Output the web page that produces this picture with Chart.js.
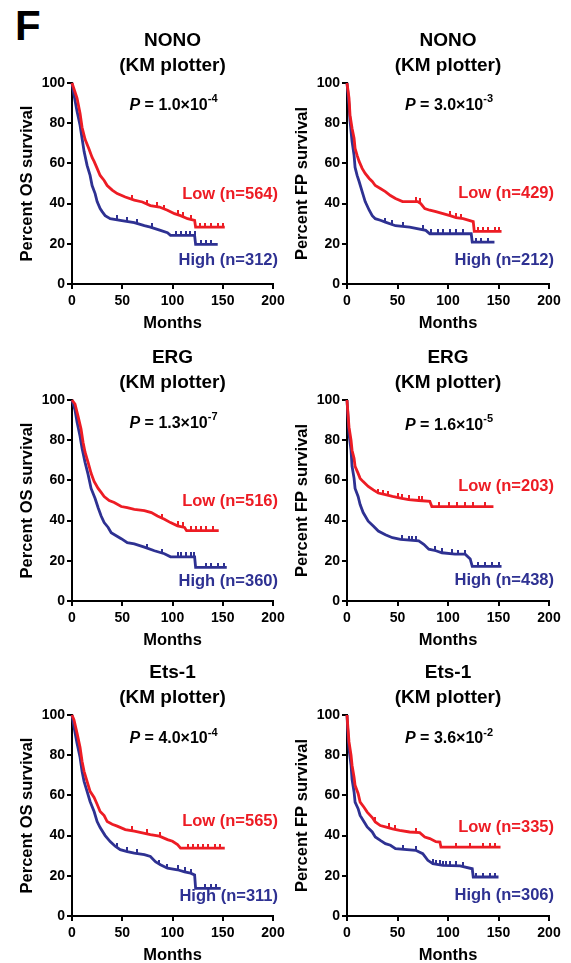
<!DOCTYPE html>
<html>
<head>
<meta charset="utf-8">
<title>KM plotter survival curves</title>
<script src="https://cdn.jsdelivr.net/npm/chart.js@4.4.1/dist/chart.umd.min.js"></script>
<style>
  html, body { margin: 0; padding: 0; background: #fff; }
  #page { position: relative; width: 571px; height: 963px; overflow: hidden; }
  #page canvas { position: absolute; }
  #letter { position: absolute; left: 15px; top: 5px; font: bold 42px 'Liberation Sans', Arial, sans-serif; line-height: 1; }
</style>
</head>
<body>
<div id="page">
  <div id="letter">F</div>
  <canvas id="c0" width="295" height="309" style="left:0;top:26px"></canvas>
  <canvas id="c1" width="291" height="309" style="left:280px;top:26px"></canvas>
  <canvas id="c2" width="295" height="309" style="left:0;top:343px"></canvas>
  <canvas id="c3" width="291" height="309" style="left:280px;top:343px"></canvas>
  <canvas id="c4" width="295" height="309" style="left:0;top:658px"></canvas>
  <canvas id="c5" width="291" height="309" style="left:280px;top:658px"></canvas>
</div>
<script>
// panel labels
const genes = ['NONO', 'NONO', 'ERG', 'ERG', 'Ets-1', 'Ets-1'];
const endpoints = ['OS', 'FP', 'OS', 'FP', 'OS', 'FP'];
const pMantissa = ['1.0', '3.0', '1.3', '1.6', '4.0', '3.6'];
const pExponent = ['-4', '-3', '-7', '-5', '-4', '-2'];
const lowN = [564, 429, 516, 203, 565, 335];
const highN = [312, 212, 360, 438, 311, 306];

const xTicks = [0, 50, 100, 150, 200];
const yTicks = [0, 20, 40, 60, 80, 100];

// survival curves (months, percent), C = censor times
// NONO, OS
const nonoOsLowT = [0, 2, 5, 8, 10, 13, 17, 20, 22, 25, 28, 32, 35, 40, 45, 53, 62, 70, 78, 87, 95, 102, 108, 115, 122, 123, 152];
const nonoOsLowS = [100, 97, 92.5, 85, 78, 72, 67, 63, 61, 57.5, 54, 51.5, 49, 46.7, 45, 43.3, 41.7, 40.8, 39, 38.3, 36.7, 35, 34, 32.5, 31.7, 28.3, 28.3];
const nonoOsLowC = [60, 75, 85, 92, 105, 110, 118, 127, 132, 138, 145, 150];
const nonoOsHighT = [0, 2, 5, 8, 10, 12, 15, 18, 20, 23, 25, 28, 30, 33, 38, 48, 62, 72, 78, 88, 95, 98, 122, 123, 145];
const nonoOsHighS = [100, 94, 86, 79, 72.5, 66, 59, 54, 49, 45, 41, 37.5, 36, 34, 32.5, 31.7, 30.5, 29, 28.3, 26.7, 25.5, 24.2, 24.2, 19.7, 19.7];
const nonoOsHighC = [45, 55, 65, 80, 103, 108, 113, 117, 122, 128, 133, 138];

// NONO, FP
const nonoFpLowT = [0, 2, 3, 5, 7, 8, 10, 12, 15, 18, 22, 25, 28, 33, 38, 43, 48, 55, 70, 73, 77, 82, 88, 95, 102, 108, 115, 125, 126, 153];
const nonoFpLowS = [100, 92.5, 84, 77.5, 72.5, 67.5, 64, 61, 57.5, 55, 52.5, 51, 49, 47.5, 46, 44, 42.5, 41, 41, 40, 37.5, 36.7, 36, 35, 34, 33, 32.5, 31, 26.2, 26.2];
const nonoFpLowC = [68, 72, 102, 108, 113, 130, 135, 140, 147, 150];
const nonoFpHighT = [0, 2, 3, 5, 7, 8, 10, 12, 15, 18, 22, 25, 28, 33, 38, 48, 62, 78, 82, 123, 124, 146];
const nonoFpHighS = [100, 89, 81, 71, 64, 58, 54, 51, 46, 41, 36.7, 34, 32.5, 31.7, 30.8, 29, 28.3, 26.7, 25, 25, 20.8, 20.8];
const nonoFpHighC = [38, 45, 55, 75, 83, 90, 95, 102, 108, 115, 128, 133, 140];

// ERG, OS
const ergOsLowT = [0, 3, 6, 9, 11, 13, 16, 19, 22, 26, 29, 32, 37, 42, 49, 55, 62, 72, 79, 85, 92, 98, 105, 112, 114, 146];
const ergOsLowS = [100, 98, 92, 85.6, 79, 74, 69, 63.5, 59.5, 56, 54, 52, 50, 49, 47, 46.4, 45.6, 45, 44, 42.3, 40.7, 39, 37.4, 36.6, 35, 35];
const ergOsLowC = [90, 105, 110, 118, 123, 128, 133, 140];
const ergOsHighT = [0, 3, 5, 8, 10, 13, 16, 19, 23, 26, 29, 32, 36, 39, 44, 49, 55, 62, 72, 82, 92, 98, 122, 123, 154];
const ergOsHighS = [100, 95, 89, 82, 76, 69, 63, 56, 51, 46.4, 42.3, 39, 36.6, 34, 32.5, 31, 29, 28.4, 26.8, 25, 23.5, 22, 22, 16.7, 16.7];
const ergOsHighC = [75, 90, 105, 108, 113, 118, 121, 133, 138, 145, 151];

// ERG, FP
const ergFpLowT = [0, 1, 2, 4, 5, 7, 8, 11, 13, 16, 21, 26, 31, 38, 45, 53, 61, 71, 82, 84, 145];
const ergFpLowS = [100, 93, 86.5, 80, 75, 71, 67, 63.5, 61, 59.4, 57, 55.3, 53.7, 52.9, 52, 51.2, 50.4, 50, 49.6, 47, 47];
const ergFpLowC = [31, 36, 41, 50, 54, 61, 71, 74, 91, 101, 109, 117, 125, 137];
const ergFpHighT = [0, 1, 2, 4, 5, 7, 8, 11, 13, 16, 21, 26, 31, 38, 45, 53, 71, 76, 81, 88, 94, 107, 117, 122, 124, 153];
const ergFpHighS = [100, 91.5, 83, 75, 67, 61, 56, 52, 48, 44, 39.7, 37.3, 34.8, 33, 31.5, 30.7, 29.9, 28.2, 25.8, 25, 24, 23.3, 23.3, 20.9, 17.2, 17.2];
const ergFpHighC = [54, 61, 64, 68, 87, 94, 104, 110, 117, 130, 137, 144, 150];

// Ets-1, OS
const etsOsLowT = [0, 2, 5, 8, 10, 12, 15, 18, 22, 25, 28, 32, 35, 40, 45, 53, 62, 70, 78, 87, 95, 100, 105, 108, 152];
const etsOsLowS = [100, 97.5, 91, 84, 77, 72, 67, 62, 59, 55.6, 52, 50, 47, 45.6, 44.7, 43, 42.2, 41.4, 40.5, 39.7, 38, 37.2, 35.5, 33.8, 33.8];
const etsOsLowC = [60, 75, 88, 115, 120, 125, 130, 135, 142, 147];
const etsOsHighT = [0, 2, 5, 8, 10, 12, 15, 18, 22, 25, 28, 33, 38, 43, 48, 55, 62, 72, 78, 83, 88, 95, 105, 112, 118, 122, 123, 148];
const etsOsHighS = [100, 94, 86, 79, 72, 67, 62, 57, 52, 47, 44, 40, 37, 34.7, 33, 32, 31.3, 30.5, 29.6, 27, 25.5, 23.8, 23, 22, 21.3, 20.4, 13.7, 13.7];
const etsOsHighC = [45, 55, 65, 87, 95, 105, 112, 118, 132, 138, 143];

// Ets-1, FP
const etsFpLowT = [0, 1, 2, 4, 5, 7, 8, 11, 13, 17, 20, 25, 28, 33, 38, 45, 52, 62, 72, 77, 82, 88, 92, 93, 152];
const etsFpLowS = [100, 93, 86.6, 80, 75, 69, 65, 61, 56.7, 54, 51.7, 49, 46.8, 45, 44.3, 43.4, 42.6, 41.8, 41.5, 39.3, 38.5, 37, 36.8, 34.3, 34.3];
const etsFpLowC = [28, 42, 48, 68, 108, 122, 135, 142, 147];
const etsFpHighT = [0, 1, 2, 4, 5, 7, 8, 11, 13, 17, 20, 25, 28, 33, 38, 43, 48, 68, 75, 80, 85, 95, 112, 124, 125, 150];
const etsFpHighS = [100, 90, 83, 75, 68, 61.7, 56.7, 53.4, 50, 46.8, 44.3, 41.8, 39.3, 37.6, 36, 35.2, 33.5, 32.7, 31, 27.7, 26, 25.2, 24.9, 23.5, 19.4, 19.4];
const etsFpHighC = [55, 68, 85, 88, 92, 95, 98, 102, 108, 115, 128, 135, 142, 147];

const RED = '#ed1c24';
const BLUE = '#2e3192';
const FONT = "'Liberation Sans', Arial, Helvetica, sans-serif";

// where the annotations sit, in data units [months, percent]
const panels = [
  { low: [nonoOsLowT, nonoOsLowS, nonoOsLowC], high: [nonoOsHighT, nonoOsHighS, nonoOsHighC], pAt: [101, 89], lowY: 44.6, highY: 11.6, left: true },
  { low: [nonoFpLowT, nonoFpLowS, nonoFpLowC], high: [nonoFpHighT, nonoFpHighS, nonoFpHighC], pAt: [101, 89], lowY: 45, highY: 11.8, left: false },
  { low: [ergOsLowT, ergOsLowS, ergOsLowC], high: [ergOsHighT, ergOsHighS, ergOsHighC], pAt: [101, 88.5], lowY: 49.3, highY: 9.9, left: true },
  { low: [ergFpLowT, ergFpLowS, ergFpLowC], high: [ergFpHighT, ergFpHighS, ergFpHighC], pAt: [101, 87.5], lowY: 57, highY: 10.2, left: false },
  { low: [etsOsLowT, etsOsLowS, etsOsLowC], high: [etsOsHighT, etsOsHighS, etsOsHighC], pAt: [101, 88.3], lowY: 46.9, highY: 9.5, left: true },
  { low: [etsFpLowT, etsFpLowS, etsFpLowC], high: [etsFpHighT, etsFpHighS, etsFpHighC], pAt: [101, 88.2], lowY: 44.3, highY: 10.3, left: false }
];

Chart.defaults.font.family = FONT;
Chart.defaults.font.weight = 'bold';
Chart.defaults.color = '#000';

// height of the drawn curve at time t, so a censor tick sits on it
function levelAt(ts, ss, t) {
  for (let i = 1; i < ts.length; i++) {
    if (t <= ts[i]) {
      const f = (t - ts[i - 1]) / (ts[i] - ts[i - 1]);
      return ss[i - 1] + f * (ss[i] - ss[i - 1]);
    }
  }
  return ss[ss.length - 1];
}

// small upward tick used as the censor marker
function tickMark(color) {
  const c = document.createElement('canvas');
  c.width = 2;
  c.height = 9;
  const g = c.getContext('2d');
  g.fillStyle = color;
  g.fillRect(0, 0, 2, 4.5);
  return c;
}

const kmNotes = {
  id: 'kmNotes',
  afterDraw(chart, args, opts) {
    const { ctx, chartArea, scales: { x, y } } = chart;
    ctx.save();
    ctx.fillStyle = '#000';
    ctx.textBaseline = 'middle';
    ctx.textAlign = 'left';

    // P value with superscript exponent
    const fP = 'italic bold 16px ' + FONT;
    const fMain = 'bold 16px ' + FONT;
    const fSup = 'bold 11px ' + FONT;
    const main = ' = ' + opts.mant + '\u00d710';
    ctx.font = fP;
    const wP = ctx.measureText('P').width;
    ctx.font = fMain;
    const wM = ctx.measureText(main).width;
    ctx.font = fSup;
    const wS = ctx.measureText(opts.exp).width;
    let px = x.getPixelForValue(opts.pAt[0]) - (wP + wM + wS) / 2;
    const py = y.getPixelForValue(opts.pAt[1]);
    ctx.font = fP;
    ctx.fillText('P', px, py);
    px += wP;
    ctx.font = fMain;
    ctx.fillText(main, px, py);
    px += wM;
    ctx.font = fSup;
    ctx.fillText(opts.exp, px, py - 6);

    // group labels
    ctx.font = 'bold 16.5px ' + FONT;
    ctx.textAlign = 'right';
    ctx.fillStyle = RED;
    ctx.fillText('Low (n=' + opts.lowN + ')', chartArea.right + 5, y.getPixelForValue(opts.lowY));
    ctx.fillStyle = BLUE;
    ctx.fillText('High (n=' + opts.highN + ')', chartArea.right + 5, y.getPixelForValue(opts.highY));
    ctx.restore();
  }
};
Chart.register(kmNotes);

function curve(ts, ss, color) {
  return {
    data: ts.map((t, i) => ({ x: t, y: ss[i] })),
    borderColor: color,
    borderWidth: 2.8,
    pointRadius: 0,
    fill: false,
    clip: false
  };
}

function censors(ts, ss, cs, color) {
  return {
    data: cs.map(t => ({ x: t, y: levelAt(ts, ss, t) })),
    showLine: false,
    pointStyle: tickMark(color),
    pointRadius: 3,
    borderColor: color,
    backgroundColor: color,
    clip: false
  };
}

const axisStyle = {
  grid: { display: true, drawOnChartArea: false, drawTicks: true, tickLength: 5, color: '#000', lineWidth: 2 },
  border: { display: true, color: '#000', width: 2 }
};

panels.forEach((p, i) => {
  new Chart(document.getElementById('c' + i), {
    type: 'line',
    data: {
      datasets: [
        curve(p.low[0], p.low[1], RED),
        curve(p.high[0], p.high[1], BLUE),
        censors(p.low[0], p.low[1], p.low[2], RED),
        censors(p.high[0], p.high[1], p.high[2], BLUE)
      ]
    },
    options: {
      responsive: false,
      animation: false,
      events: [],
      layout: { padding: { left: p.left ? 18 : 13, right: 22, top: 2, bottom: 2 } },
      plugins: {
        legend: { display: false },
        tooltip: { enabled: false },
        title: {
          display: true,
          fullSize: false,
          text: [genes[i], '(KM plotter)'],
          font: { size: 19, weight: 'bold', lineHeight: '25px' },
          color: '#000',
          padding: { top: 0, bottom: 5 }
        },
        kmNotes: {
          mant: pMantissa[i], exp: pExponent[i],
          lowN: lowN[i], highN: highN[i],
          pAt: p.pAt, lowY: p.lowY, highY: p.highY
        }
      },
      scales: {
        x: {
          type: 'linear',
          min: xTicks[0], max: xTicks[xTicks.length - 1],
          afterBuildTicks: s => { s.ticks = xTicks.map(v => ({ value: v })); },
          ticks: { font: { size: 14, weight: 'bold' }, color: '#000', padding: 4, maxRotation: 0 },
          title: { display: true, text: 'Months', font: { size: 16.5, weight: 'bold' }, color: '#000', padding: 0 },
          afterFit: s => { s.height = 49; },
          ...axisStyle
        },
        y: {
          min: yTicks[0], max: yTicks[yTicks.length - 1],
          afterBuildTicks: s => { s.ticks = yTicks.map(v => ({ value: v })); },
          ticks: { font: { size: 14, weight: 'bold' }, color: '#000', padding: 2 },
          title: { display: true, text: 'Percent ' + endpoints[i] + ' survival', font: { size: 16.5, weight: 'bold' }, color: '#000', padding: 0 },
          afterFit: s => { s.width = 54; },
          ...axisStyle
        }
      }
    }
  });
});
</script>
</body>
</html>
